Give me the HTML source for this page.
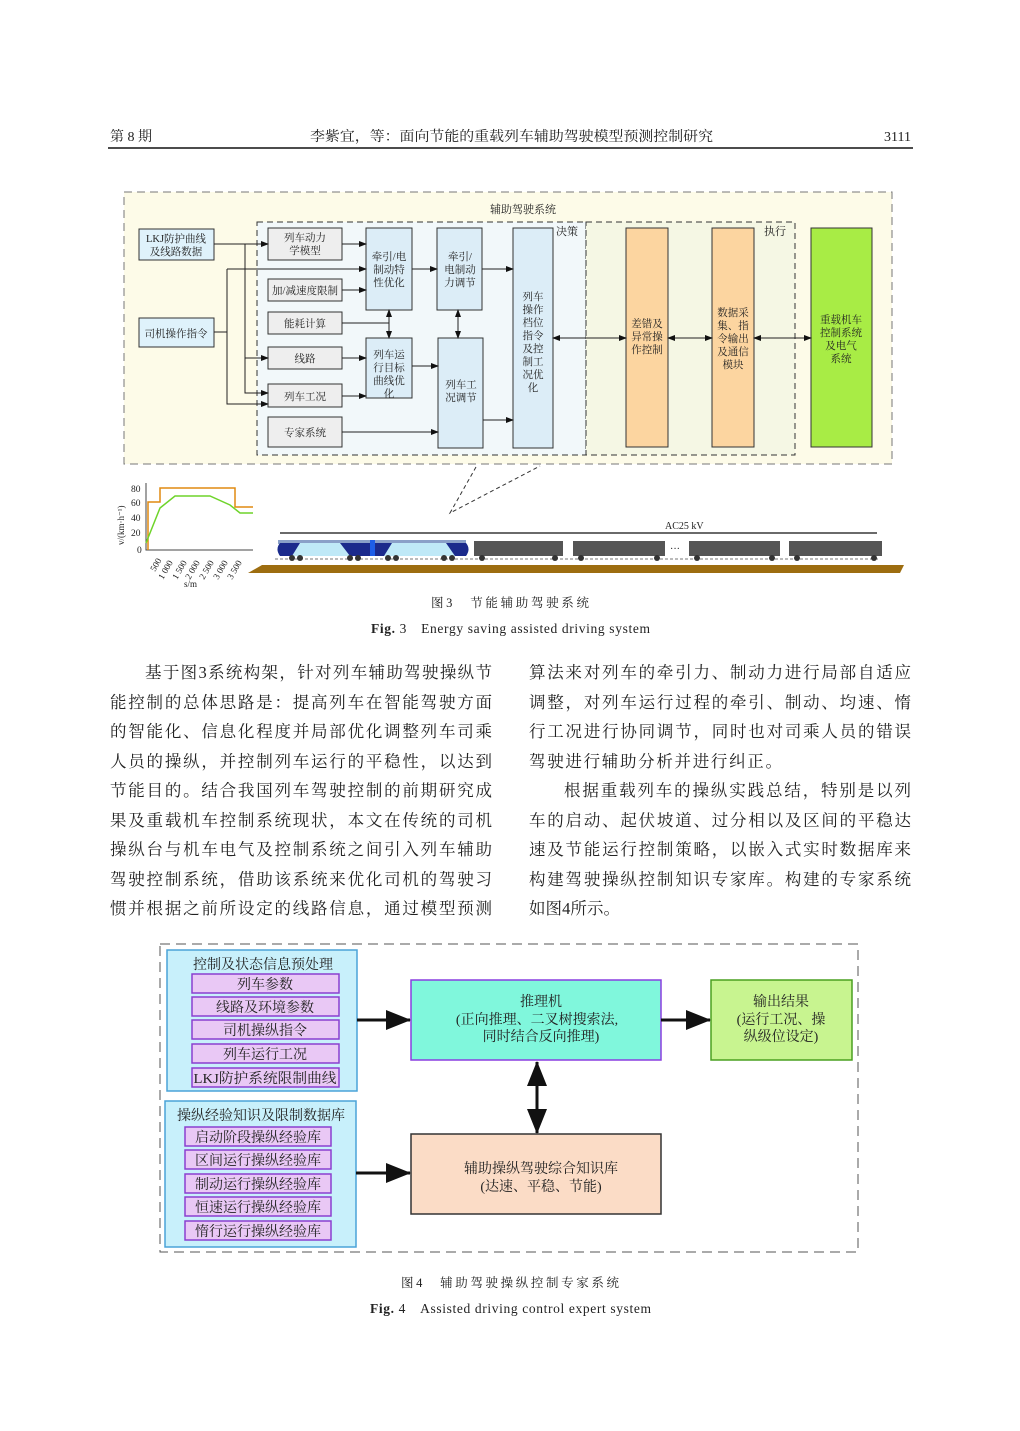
<!DOCTYPE html>
<html><head><meta charset="utf-8"><style>
html,body{margin:0;padding:0;background:#fff;}
svg{display:block;}
text{font-family:"Liberation Serif","Noto Serif CJK SC","Noto Sans CJK SC",serif;fill:#222;}
</style></head><body>
<svg width="1020" height="1431" viewBox="0 0 1020 1431" xmlns="http://www.w3.org/2000/svg">
<defs>
<marker id="a" markerWidth="8" markerHeight="8" refX="7" refY="4" orient="auto" markerUnits="userSpaceOnUse"><path d="M0,1 L8,4 L0,7z" fill="#111"/></marker>
<marker id="as" markerWidth="8" markerHeight="8" refX="1" refY="4" orient="auto" markerUnits="userSpaceOnUse"><path d="M8,1 L0,4 L8,7z" fill="#111"/></marker>
<marker id="b" markerWidth="26" markerHeight="24" refX="24" refY="12" orient="auto" markerUnits="userSpaceOnUse"><path d="M0,2 L25,12 L0,22z" fill="#111"/></marker>
<marker id="bs" markerWidth="26" markerHeight="24" refX="1" refY="12" orient="auto" markerUnits="userSpaceOnUse"><path d="M25,2 L0,12 L25,22z" fill="#111"/></marker>
</defs>

<!-- header -->
<text x="110" y="141" font-size="14">第 8 期</text>
<text x="310" y="141" font-size="14" textLength="403" lengthAdjust="spacingAndGlyphs">李紫宜，等：面向节能的重载列车辅助驾驶模型预测控制研究</text>
<text x="911" y="141" font-size="14" text-anchor="end">3111</text>
<line x1="108" y1="148" x2="913" y2="148" stroke="#111" stroke-width="1.5"/>

<!-- FIG 3 -->
<rect x="124" y="192" width="768" height="272" fill="#fdfbe8" stroke="#777" stroke-dasharray="8,5"/>
<text x="490" y="213" font-size="11">辅助驾驶系统</text>
<rect x="257" y="222" width="329" height="233" fill="#f2f8fa" stroke="#333" stroke-dasharray="6,4"/>
<rect x="586" y="222" width="209" height="233" fill="#f5f7e4" stroke="#333" stroke-dasharray="6,4"/>
<text x="556" y="235" font-size="11">决策</text>
<text x="764" y="235" font-size="11">执行</text>

<g stroke="#333" stroke-width="1">
<rect x="139" y="229" width="75" height="31" fill="#dff2fb"/>
<rect x="139" y="318" width="75" height="29" fill="#dff2fb"/>
<g fill="#eeeeee">
<rect x="268" y="228" width="74" height="32"/>
<rect x="268" y="279" width="74" height="22"/>
<rect x="268" y="312" width="74" height="22"/>
<rect x="268" y="347" width="74" height="22"/>
<rect x="268" y="384" width="74" height="23"/>
<rect x="268" y="417" width="74" height="30"/>
</g>
<g fill="#dcedf7">
<rect x="366" y="228" width="46" height="82"/>
<rect x="366" y="338" width="46" height="60"/>
<rect x="437" y="228" width="45" height="82"/>
<rect x="438" y="338" width="45" height="110"/>
<rect x="513" y="228" width="40" height="220"/>
</g>
<rect x="626" y="228" width="42" height="219" fill="#fcd5a0"/>
<rect x="712" y="228" width="42" height="219" fill="#fcd5a0"/>
<rect x="811" y="228" width="61" height="219" fill="#a8ec45"/>
</g>

<g font-size="10.5" text-anchor="middle">
<text x="176" y="242">LKJ防护曲线</text><text x="176" y="255">及线路数据</text>
<text x="176" y="337">司机操作指令</text>
<text x="305" y="241">列车动力</text><text x="305" y="254">学模型</text>
<text x="305" y="294">加/减速度限制</text>
<text x="305" y="327">能耗计算</text>
<text x="305" y="362">线路</text>
<text x="305" y="400">列车工况</text>
<text x="305" y="436">专家系统</text>
<text x="389" y="260">牵引/电</text><text x="389" y="273">制动特</text><text x="389" y="286">性优化</text>
<text x="389" y="358">列车运</text><text x="389" y="371">行目标</text><text x="389" y="384">曲线优</text><text x="389" y="397">化</text>
<text x="460" y="260">牵引/</text><text x="460" y="273">电制动</text><text x="460" y="286">力调节</text>
<text x="461" y="388">列车工</text><text x="461" y="401">况调节</text>
<text x="533" y="300">列车</text><text x="533" y="313">操作</text><text x="533" y="326">档位</text><text x="533" y="339">指令</text><text x="533" y="352">及控</text><text x="533" y="365">制工</text><text x="533" y="378">况优</text><text x="533" y="391">化</text>
<text x="647" y="327">差错及</text><text x="647" y="340">异常操</text><text x="647" y="353">作控制</text>
<text x="733" y="316">数据采</text><text x="733" y="329">集、指</text><text x="733" y="342">令输出</text><text x="733" y="355">及通信</text><text x="733" y="368">模块</text>
<text x="841" y="323">重载机车</text><text x="841" y="336">控制系统</text><text x="841" y="349">及电气</text><text x="841" y="362">系统</text>
</g>

<g stroke="#222" stroke-width="1" fill="none">
<path d="M214,244 H268" marker-end="url(#a)"/>
<path d="M245,244 V393 H268" marker-end="url(#a)"/>
<path d="M245,358 H268" marker-end="url(#a)"/>
<path d="M214,332 H227"/>
<path d="M227,269 V404 H268" marker-end="url(#a)"/>
<path d="M227,269 H366" marker-end="url(#a)"/>
<path d="M342,244 H366" marker-end="url(#a)"/>
<path d="M342,290 H366" marker-end="url(#a)"/>
<path d="M342,323 H389"/>
<path d="M389,310 V338" marker-start="url(#as)" marker-end="url(#a)"/>
<path d="M342,358 H366" marker-end="url(#a)"/>
<path d="M342,396 H366" marker-end="url(#a)"/>
<path d="M342,432 H438" marker-end="url(#a)"/>
<path d="M412,269 H437" marker-end="url(#a)"/>
<path d="M412,366 H438" marker-end="url(#a)"/>
<path d="M458,310 V338" marker-start="url(#as)" marker-end="url(#a)"/>
<path d="M482,269 H513" marker-end="url(#a)"/>
<path d="M483,420 H513" marker-end="url(#a)"/>
<path d="M553,338 H626" marker-start="url(#as)" marker-end="url(#a)"/>
<path d="M668,338 H712" marker-start="url(#as)" marker-end="url(#a)"/>
<path d="M754,338 H811" marker-start="url(#as)" marker-end="url(#a)"/>
</g>

<!-- callout -->
<path d="M476,467 L450,513 L540,466" fill="#fff" stroke="#333" stroke-dasharray="4,3"/>

<!-- chart -->
<rect x="146" y="483" width="107" height="67" fill="#fff"/>
<g stroke="#444" fill="none"><path d="M146,483 V550 H253"/></g>
<path d="M148,550 V528 H148 V502 H160 V488 H235 V507 H253" stroke="#e08a10" stroke-width="1.5" fill="none"/>
<path d="M146,543 L160,508 L175,496 L210,496 L230,505 L240,513 L253,513" stroke="#6ed42a" stroke-width="1.5" fill="none"/>
<g font-size="9.5">
<text x="131" y="492">80</text><text x="131" y="506">60</text><text x="131" y="521">40</text><text x="131" y="536">20</text><text x="137" y="553">0</text>
<text transform="translate(124,545) rotate(-90)" font-size="9">v/(km·h⁻¹)</text>
<text transform="translate(155,572) rotate(-60)" font-size="9">500</text>
<text transform="translate(163,580) rotate(-60)" font-size="9">1 000</text>
<text transform="translate(177,580) rotate(-60)" font-size="9">1 500</text>
<text transform="translate(190,580) rotate(-60)" font-size="9">2 000</text>
<text transform="translate(204,580) rotate(-60)" font-size="9">2 500</text>
<text transform="translate(218,580) rotate(-60)" font-size="9">3 000</text>
<text transform="translate(232,580) rotate(-60)" font-size="9">3 500</text>
<text x="184" y="587" font-size="9">s/m</text>
</g>

<!-- train -->
<line x1="280" y1="533" x2="877" y2="533" stroke="#111" stroke-width="1.3"/>
<text x="665" y="529" font-size="10">AC25 kV</text>
<path d="M262,565 L904,565 L900,573 L248,573z" fill="#9d6d10"/>
<line x1="275" y1="559" x2="880" y2="559" stroke="#777" stroke-dasharray="3,2"/>
<g>
<rect x="278" y="540" width="188" height="4" fill="#8aa0c8"/>
<path d="M280,543 H370 V556 H280 Q275,549 280,543z" fill="#bfe9f7"/>
<path d="M280,543 H300 L292,556 H280 Q275,549 280,543z" fill="#1b2a8c"/>
<path d="M340,543 H370 V556 H350z" fill="#1b2a8c"/>
<path d="M375,543 H466 Q471,549 466,556 H375z" fill="#bfe9f7"/>
<path d="M375,543 H392 L384,556 H375z" fill="#1b2a8c"/>
<path d="M446,543 H466 Q471,549 466,556 H455z" fill="#1b2a8c"/>
<rect x="370" y="540" width="5" height="16" fill="#1e5ee8"/>
<g fill="#555">
<rect x="474" y="541" width="89" height="15"/><rect x="573" y="541" width="92" height="15"/>
<rect x="689" y="541" width="91" height="15"/><rect x="789" y="541" width="93" height="15"/>
</g>
<g fill="#333">
<circle cx="292" cy="558" r="3"/><circle cx="300" cy="558" r="3"/><circle cx="350" cy="558" r="3"/><circle cx="358" cy="558" r="3"/>
<circle cx="388" cy="558" r="3"/><circle cx="396" cy="558" r="3"/><circle cx="444" cy="558" r="3"/><circle cx="452" cy="558" r="3"/>
<circle cx="482" cy="558" r="3"/><circle cx="555" cy="558" r="3"/><circle cx="581" cy="558" r="3"/><circle cx="657" cy="558" r="3"/>
<circle cx="697" cy="558" r="3"/><circle cx="772" cy="558" r="3"/><circle cx="797" cy="558" r="3"/><circle cx="874" cy="558" r="3"/>
</g>
<text x="670" y="552" font-size="10">···</text>
</g>

<text x="431" y="607" font-size="12.5" textLength="158" lengthAdjust="spacing">图3　节能辅助驾驶系统</text>
<text x="371" y="633" font-size="13.5" textLength="279" lengthAdjust="spacing"><tspan font-weight="bold">Fig. </tspan>3　Energy saving assisted driving system</text>

<!-- body text -->
<g font-size="16.5">
<text x="145" y="678" textLength="347" lengthAdjust="spacing">基于图3系统构架，针对列车辅助驾驶操纵节</text>
<text x="110" y="708" textLength="382" lengthAdjust="spacing">能控制的总体思路是：提高列车在智能驾驶方面</text>
<text x="110" y="737" textLength="382" lengthAdjust="spacing">的智能化、信息化程度并局部优化调整列车司乘</text>
<text x="110" y="767" textLength="382" lengthAdjust="spacing">人员的操纵，并控制列车运行的平稳性，以达到</text>
<text x="110" y="796" textLength="382" lengthAdjust="spacing">节能目的。结合我国列车驾驶控制的前期研究成</text>
<text x="110" y="826" textLength="382" lengthAdjust="spacing">果及重载机车控制系统现状，本文在传统的司机</text>
<text x="110" y="855" textLength="382" lengthAdjust="spacing">操纵台与机车电气及控制系统之间引入列车辅助</text>
<text x="110" y="885" textLength="382" lengthAdjust="spacing">驾驶控制系统，借助该系统来优化司机的驾驶习</text>
<text x="110" y="914" textLength="382" lengthAdjust="spacing">惯并根据之前所设定的线路信息，通过模型预测</text>
<text x="529" y="678" textLength="382" lengthAdjust="spacing">算法来对列车的牵引力、制动力进行局部自适应</text>
<text x="529" y="708" textLength="382" lengthAdjust="spacing">调整，对列车运行过程的牵引、制动、均速、惰</text>
<text x="529" y="737" textLength="382" lengthAdjust="spacing">行工况进行协同调节，同时也对司乘人员的错误</text>
<text x="529" y="767" textLength="253" lengthAdjust="spacing">驾驶进行辅助分析并进行纠正。</text>
<text x="564" y="796" textLength="347" lengthAdjust="spacing">根据重载列车的操纵实践总结，特别是以列</text>
<text x="529" y="826" textLength="382" lengthAdjust="spacing">车的启动、起伏坡道、过分相以及区间的平稳达</text>
<text x="529" y="855" textLength="382" lengthAdjust="spacing">速及节能运行控制策略，以嵌入式实时数据库来</text>
<text x="529" y="885" textLength="382" lengthAdjust="spacing">构建驾驶操纵控制知识专家库。构建的专家系统</text>
<text x="529" y="914" textLength="91" lengthAdjust="spacing">如图4所示。</text>
</g>

<!-- FIG 4 -->
<rect x="160" y="944" width="698" height="308" fill="#fff" stroke="#555" stroke-dasharray="10,6"/>
<rect x="167" y="950" width="190" height="141" fill="#c8f0fb" stroke="#4aa3d8" stroke-width="1.5"/>
<rect x="165" y="1101" width="191" height="146" fill="#c8f0fb" stroke="#4aa3d8" stroke-width="1.5"/>
<g fill="#e9c8f5" stroke="#8a3fd0" stroke-width="1.5">
<rect x="192" y="974" width="147" height="19"/><rect x="192" y="997" width="147" height="19"/>
<rect x="192" y="1020" width="147" height="19"/><rect x="192" y="1044" width="147" height="19"/>
<rect x="192" y="1068" width="147" height="19"/>
<rect x="185" y="1127" width="146" height="19"/><rect x="185" y="1150" width="146" height="19"/>
<rect x="185" y="1174" width="146" height="19"/><rect x="185" y="1197" width="146" height="19"/>
<rect x="185" y="1221" width="146" height="19"/>
</g>
<rect x="411" y="980" width="250" height="80" fill="#80f7dc" stroke="#8a3fe0" stroke-width="1.5"/>
<rect x="711" y="980" width="141" height="80" fill="#c8f490" stroke="#4aa020" stroke-width="1.5"/>
<rect x="411" y="1134" width="250" height="80" fill="#fbdcc6" stroke="#333" stroke-width="1.5"/>
<g font-size="14" text-anchor="middle">
<text x="263" y="969">控制及状态信息预处理</text>
<text x="265" y="989">列车参数</text>
<text x="265" y="1012">线路及环境参数</text>
<text x="265" y="1035">司机操纵指令</text>
<text x="265" y="1059">列车运行工况</text>
<text x="265" y="1083" textLength="143" lengthAdjust="spacingAndGlyphs">LKJ防护系统限制曲线</text>
<text x="261" y="1120">操纵经验知识及限制数据库</text>
<text x="258" y="1142">启动阶段操纵经验库</text>
<text x="258" y="1165">区间运行操纵经验库</text>
<text x="258" y="1189">制动运行操纵经验库</text>
<text x="258" y="1212">恒速运行操纵经验库</text>
<text x="258" y="1236">惰行运行操纵经验库</text>
<text x="541" y="1006">推理机</text>
<text x="537" y="1024">(正向推理、二叉树搜索法,</text>
<text x="541" y="1041">同时结合反向推理)</text>
<text x="781" y="1006">输出结果</text>
<text x="781" y="1024">(运行工况、操</text>
<text x="781" y="1041">纵级位设定)</text>
<text x="541" y="1173">辅助操纵驾驶综合知识库</text>
<text x="541" y="1191">(达速、平稳、节能)</text>
</g>
<g stroke="#111" stroke-width="3" fill="none">
<path d="M357,1020 H410" marker-end="url(#b)"/>
<path d="M356,1173 H410" marker-end="url(#b)"/>
<path d="M661,1020 H710" marker-end="url(#b)"/>
<path d="M537,1062 V1133" marker-start="url(#bs)" marker-end="url(#b)"/>
</g>

<text x="401" y="1287" font-size="12.5" textLength="218" lengthAdjust="spacing">图4　辅助驾驶操纵控制专家系统</text>
<text x="370" y="1313" font-size="13.5" textLength="281" lengthAdjust="spacing"><tspan font-weight="bold">Fig. </tspan>4　Assisted driving control expert system</text>
</svg>
</body></html>
